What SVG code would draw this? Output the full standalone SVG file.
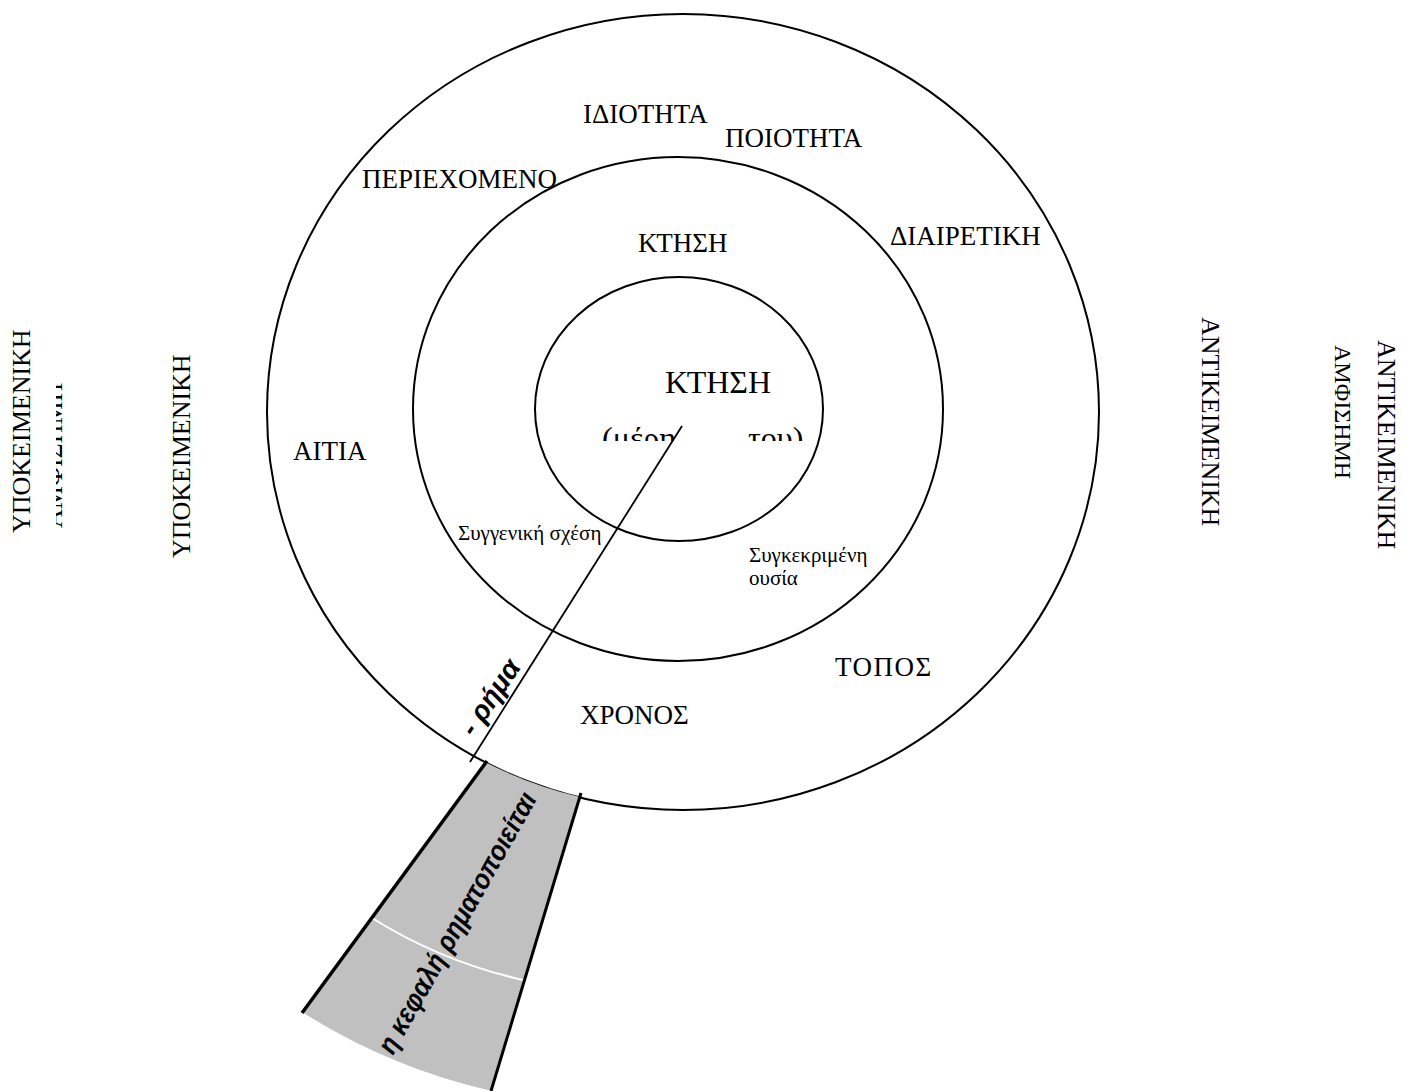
<svg xmlns="http://www.w3.org/2000/svg" width="1403" height="1091" viewBox="0 0 1403 1091">
<style>
.t{font-family:"Liberation Serif","Times New Roman",serif;font-size:27px;fill:#000}
.s{font-family:"Liberation Serif","Times New Roman",serif;font-size:21px;fill:#000}
.b{font-family:"Liberation Sans",Arial,sans-serif;font-weight:bold;font-style:italic;font-size:28px;fill:#000}
.c{fill:none;stroke:#000;stroke-width:2}
</style>
<defs>
<clipPath id="clipMid"><rect x="590" y="415" width="220" height="26"/></clipPath>
<clipPath id="clipLeft"><rect x="56" y="370" width="7" height="170"/></clipPath>
</defs>
<rect width="1403" height="1091" fill="#fff"/>
<g id="rings">
<ellipse id="outer" class="c" cx="683" cy="412" rx="416" ry="398"/>
<ellipse id="middle" class="c" cx="678" cy="409" rx="265" ry="252"/>
<ellipse id="inner" class="c" cx="679" cy="409" rx="144" ry="132"/>
</g>
<g id="connectors">
<line x1="682" y1="426" x2="470" y2="762" stroke="#000" stroke-width="1.8"/>
</g>
<g id="wedge">
<path d="M485,762 A416,398 0 0,0 580,797 L492,1091 A600,600 0 0,1 302,1012 Z" fill="#c0c0c0"/>
<path d="M372,918 A485,485 0 0,0 523,980" fill="none" stroke="#fff" stroke-width="2"/>
<line x1="487" y1="761" x2="302" y2="1013" stroke="#000" stroke-width="3.5"/>
<line x1="581" y1="793" x2="491" y2="1091" stroke="#000" stroke-width="3"/>
<text class="b" transform="translate(393,1056) rotate(-60.7)" textLength="295" lengthAdjust="spacingAndGlyphs">η κεφαλή ρηματοποιείται</text>
</g>
<g id="rima"><text class="b" transform="translate(474,738) rotate(-56)">- ρήμα</text></g>
<g id="center">
<text class="t" x="665" y="393" style="font-size:32px">ΚΤΗΣΗ</text>
<g clip-path="url(#clipMid)">
<text class="t" x="602" y="449" style="font-size:32px">(μέρη</text>
<text class="t" x="748" y="449" style="font-size:32px">του)</text>
</g>
</g>
<g id="labels">
<text class="t" x="583" y="123">ΙΔΙΟΤΗΤΑ</text>
<text class="t" x="725" y="147">ΠΟΙΟΤΗΤΑ</text>
<text class="t" x="362" y="188">ΠΕΡΙΕΧΟΜΕΝΟ</text>
<text class="t" x="638" y="252">ΚΤΗΣΗ</text>
<text class="t" x="890" y="245">ΔΙΑΙΡΕΤΙΚΗ</text>
<text class="t" x="293" y="460">ΑΙΤΙΑ</text>
<text class="s" x="458" y="540">Συγγενική σχέση</text>
<text class="s" x="749" y="562">Συγκεκριμένη</text>
<text class="s" x="749" y="585">ουσία</text>
<text class="t" x="835" y="676" letter-spacing="1.5">ΤΟΠΟΣ</text>
<text class="t" x="580" y="724">ΧΡΟΝΟΣ</text>
</g>
<g id="side-labels">
<text class="t" transform="translate(30,533) rotate(-90)" style="font-size:26px">ΥΠΟΚΕΙΜΕΝΙΚΗ</text>
<g clip-path="url(#clipLeft)"><text class="t" transform="translate(62,528) rotate(-90)" style="font-size:26px">ΑΜΦΙΣΗΜΗ</text></g>
<text class="t" transform="translate(190,558) rotate(-90)" style="font-size:26px">ΥΠΟΚΕΙΜΕΝΙΚΗ</text>
<text class="t" transform="translate(1202,317) rotate(90)" style="font-size:26px">ΑΝΤΙΚΕΙΜΕΝΙΚΗ</text>
<text class="t" transform="translate(1335,345) rotate(90)" style="font-size:24px">ΑΜΦΙΣΗΜΗ</text>
<text class="t" transform="translate(1378,340) rotate(90)" style="font-size:26px">ΑΝΤΙΚΕΙΜΕΝΙΚΗ</text>
</g>
</svg>
